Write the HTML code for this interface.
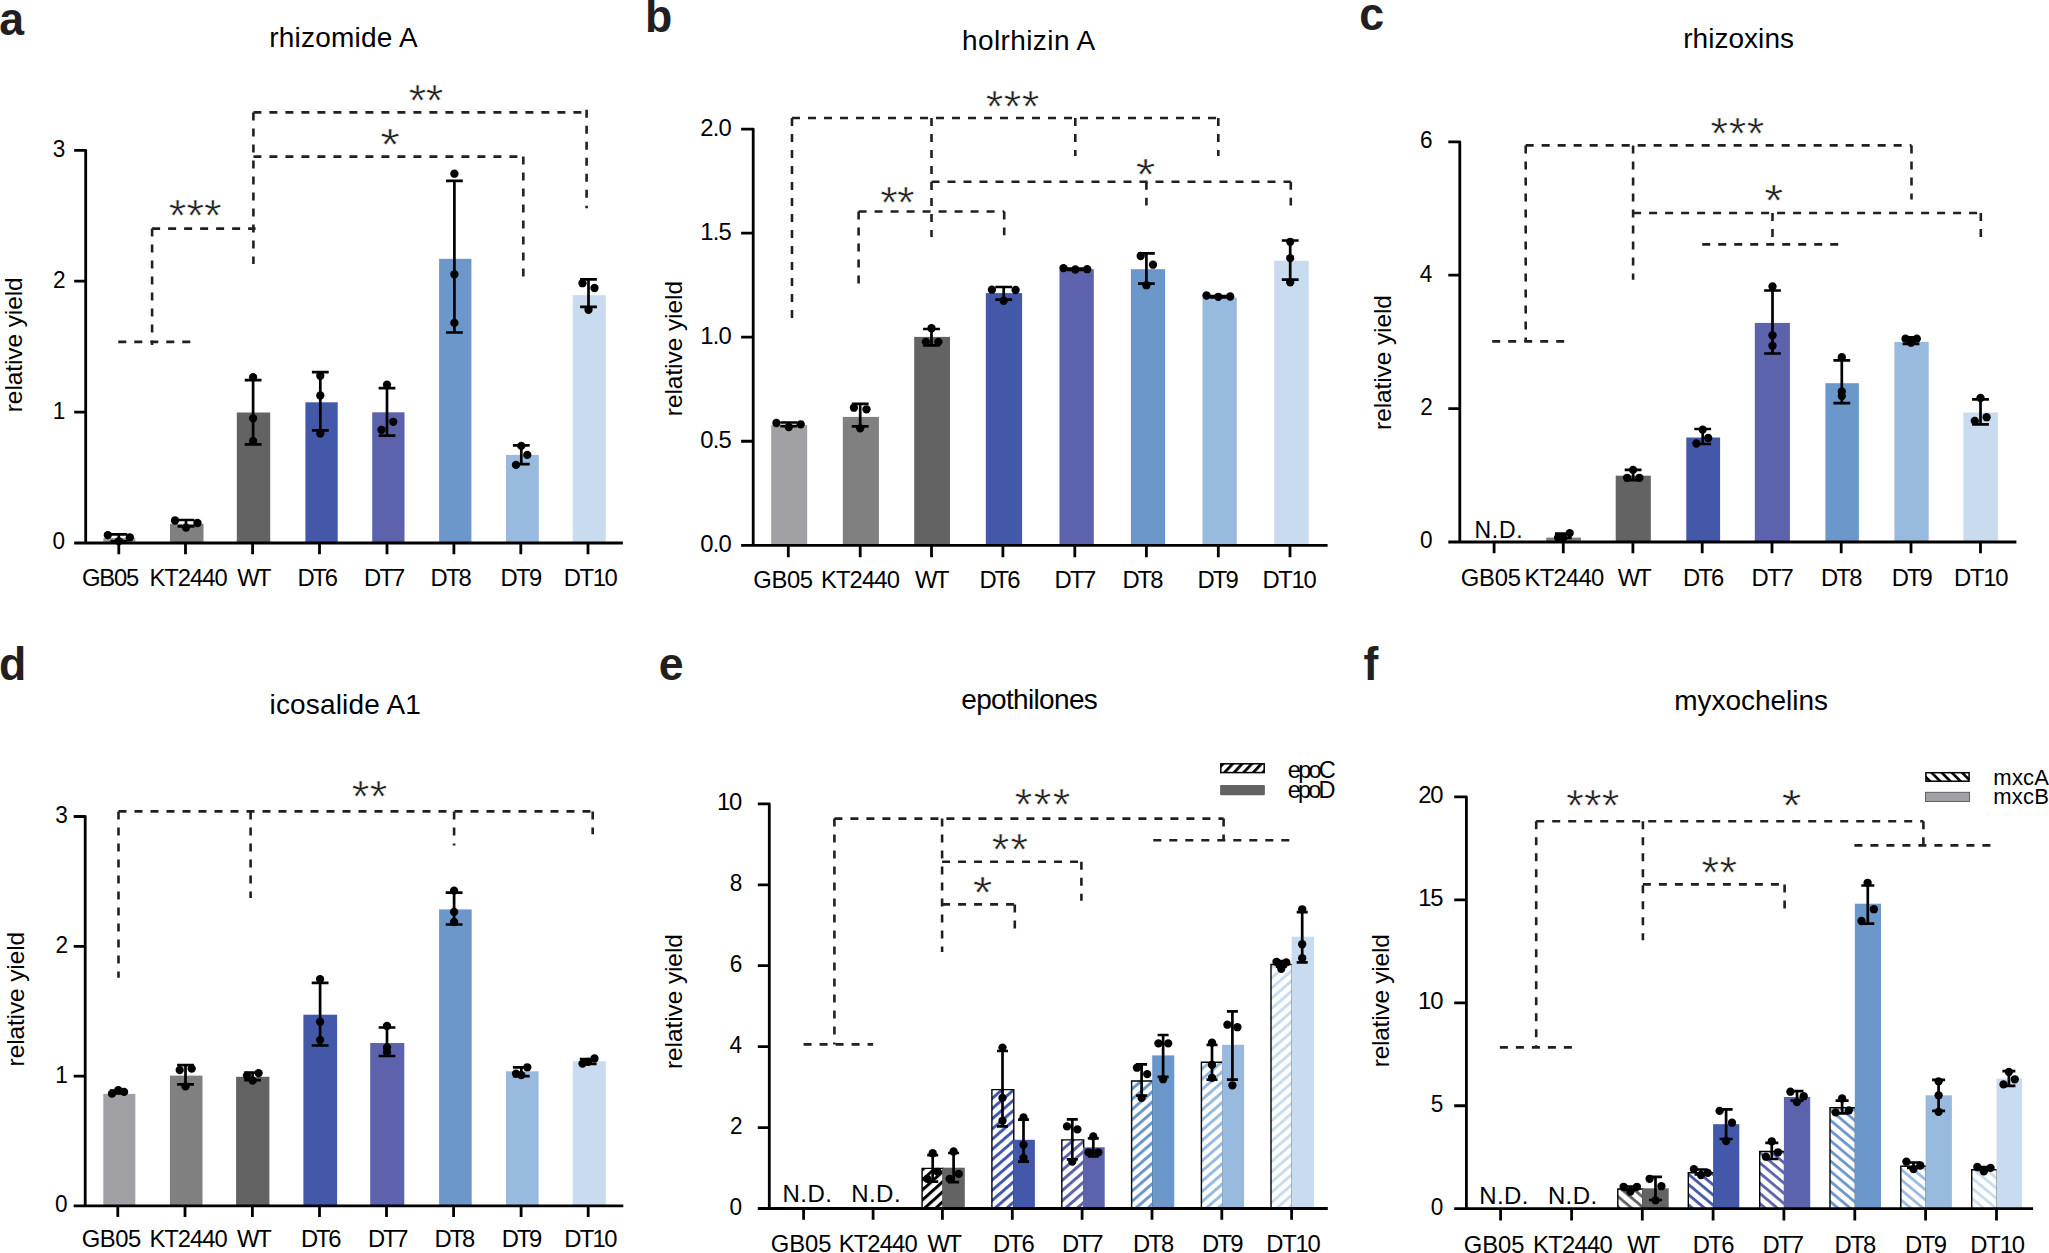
<!DOCTYPE html>
<html><head><meta charset="utf-8"><title>figure</title>
<style>
html,body{margin:0;padding:0;background:#fff}
svg{display:block}
text{font-family:"Liberation Sans",Arial,Helvetica,sans-serif;white-space:pre}

.st{stroke:#fff;stroke-width:0.5px}
</style></head><body>
<svg width="2049" height="1253" viewBox="0 0 2049 1253">
<rect width="2049" height="1253" fill="#fff"/>
<defs>
<pattern id="e0" width="20" height="7.5" patternUnits="userSpaceOnUse" patternTransform="rotate(-42)"><rect width="20" height="3.0" fill="#000"/></pattern>
<pattern id="e1" width="20" height="7.7" patternUnits="userSpaceOnUse" patternTransform="rotate(-41)"><rect width="20" height="3.0" fill="#4358a8"/></pattern>
<pattern id="e2" width="20" height="7.7" patternUnits="userSpaceOnUse" patternTransform="rotate(-41)"><rect width="20" height="3.0" fill="#5c62ab"/></pattern>
<pattern id="e3" width="20" height="7.7" patternUnits="userSpaceOnUse" patternTransform="rotate(-41)"><rect width="20" height="3.0" fill="#6b97cb"/></pattern>
<pattern id="e4" width="20" height="7.7" patternUnits="userSpaceOnUse" patternTransform="rotate(-41)"><rect width="20" height="3.0" fill="#98badf"/></pattern>
<pattern id="e5" width="20" height="7.7" patternUnits="userSpaceOnUse" patternTransform="rotate(-41)"><rect width="20" height="3.0" fill="#c9dbef"/></pattern>
<pattern id="f0" width="20" height="7.8" patternUnits="userSpaceOnUse" patternTransform="rotate(40)"><rect width="20" height="2.8" fill="#636363"/></pattern>
<pattern id="f1" width="20" height="7.8" patternUnits="userSpaceOnUse" patternTransform="rotate(40)"><rect width="20" height="2.8" fill="#4358a8"/></pattern>
<pattern id="f2" width="20" height="7.8" patternUnits="userSpaceOnUse" patternTransform="rotate(40)"><rect width="20" height="2.8" fill="#5c62ab"/></pattern>
<pattern id="f3" width="20" height="7.8" patternUnits="userSpaceOnUse" patternTransform="rotate(40)"><rect width="20" height="2.8" fill="#6b97cb"/></pattern>
<pattern id="f4" width="20" height="7.8" patternUnits="userSpaceOnUse" patternTransform="rotate(40)"><rect width="20" height="2.8" fill="#98badf"/></pattern>
<pattern id="f5" width="20" height="7.8" patternUnits="userSpaceOnUse" patternTransform="rotate(40)"><rect width="20" height="2.8" fill="#c9dbef"/></pattern>
<pattern id="le" x="2" width="20" height="7" patternUnits="userSpaceOnUse" patternTransform="rotate(-47)"><rect width="20" height="2.8" fill="#000"/></pattern>
<pattern id="lf" width="20" height="7.2" patternUnits="userSpaceOnUse" patternTransform="rotate(45)"><rect width="20" height="2.6" fill="#000"/></pattern>
</defs>
<rect x="103.30" y="538.00" width="32.00" height="5.00" fill="#a1a0a4"/>
<rect x="170.00" y="523.80" width="33.50" height="19.20" fill="#808080"/>
<rect x="236.80" y="412.50" width="33.40" height="130.50" fill="#636363"/>
<rect x="305.40" y="402.30" width="32.30" height="140.70" fill="#4358a8"/>
<rect x="372.20" y="412.30" width="32.30" height="130.70" fill="#5c62ab"/>
<rect x="439.10" y="258.80" width="32.30" height="284.20" fill="#6b97cb"/>
<rect x="506.00" y="454.90" width="32.80" height="88.10" fill="#98badf"/>
<rect x="572.70" y="295.20" width="33.10" height="247.80" fill="#c9dbef"/>
<path d="M118.80 534.30V541.00M110.40 534.30H127.20M110.40 541.00H127.20" stroke="#000" stroke-width="2.7" fill="none"/>
<path d="M186.00 520.00V526.30M177.60 520.00H194.40M177.60 526.30H194.40" stroke="#000" stroke-width="2.7" fill="none"/>
<path d="M253.10 380.20V444.40M244.70 380.20H261.50M244.70 444.40H261.50" stroke="#000" stroke-width="2.7" fill="none"/>
<path d="M320.30 372.20V430.30M311.90 372.20H328.70M311.90 430.30H328.70" stroke="#000" stroke-width="2.7" fill="none"/>
<path d="M387.00 388.20V435.60M378.60 388.20H395.40M378.60 435.60H395.40" stroke="#000" stroke-width="2.7" fill="none"/>
<path d="M454.40 180.90V332.50M446.00 180.90H462.80M446.00 332.50H462.80" stroke="#000" stroke-width="2.7" fill="none"/>
<path d="M521.30 445.40V464.20M512.90 445.40H529.70M512.90 464.20H529.70" stroke="#000" stroke-width="2.7" fill="none"/>
<path d="M588.50 279.30V306.90M580.10 279.30H596.90M580.10 306.90H596.90" stroke="#000" stroke-width="2.7" fill="none"/>
<circle cx="107.80" cy="535.10" r="4.15"/>
<circle cx="129.80" cy="537.30" r="4.15"/>
<circle cx="118.80" cy="541.10" r="4.15"/>
<circle cx="175.00" cy="520.50" r="4.15"/>
<circle cx="197.50" cy="523.00" r="4.15"/>
<circle cx="186.00" cy="527.60" r="4.15"/>
<circle cx="253.10" cy="377.20" r="4.15"/>
<circle cx="253.10" cy="418.30" r="4.15"/>
<circle cx="253.10" cy="440.90" r="4.15"/>
<circle cx="320.30" cy="375.70" r="4.15"/>
<circle cx="320.30" cy="395.50" r="4.15"/>
<circle cx="320.30" cy="433.60" r="4.15"/>
<circle cx="387.00" cy="384.70" r="4.15"/>
<circle cx="393.20" cy="421.80" r="4.15"/>
<circle cx="381.50" cy="429.80" r="4.15"/>
<circle cx="454.40" cy="173.70" r="4.15"/>
<circle cx="454.40" cy="274.30" r="4.15"/>
<circle cx="454.40" cy="322.90" r="4.15"/>
<circle cx="521.30" cy="445.90" r="4.15"/>
<circle cx="527.30" cy="454.90" r="4.15"/>
<circle cx="516.00" cy="464.90" r="4.15"/>
<circle cx="582.50" cy="283.20" r="4.15"/>
<circle cx="594.50" cy="288.00" r="4.15"/>
<circle cx="588.50" cy="309.80" r="4.15"/>
<path d="M74.20 150.30H85.70V543.00M74.20 281.20H85.70M74.20 412.10H85.70M74.20 543.00H622.80M118.80 543.00V554.20M185.50 543.00V554.20M252.60 543.00V554.20M319.50 543.00V554.20M387.00 543.00V554.20M453.90 543.00V554.20M520.80 543.00V554.20M588.00 543.00V554.20" stroke="#000" stroke-width="2.8" fill="none" stroke-linejoin="round"/>
<text x="52.66" y="156.70" font-size="23.8" fill="#000" textLength="12.58" lengthAdjust="spacingAndGlyphs">3</text>
<text x="52.88" y="287.60" font-size="23.8" fill="#000" textLength="12.58" lengthAdjust="spacingAndGlyphs">2</text>
<text x="52.77" y="418.50" font-size="23.8" fill="#000" textLength="12.58" lengthAdjust="spacingAndGlyphs">1</text>
<text x="52.54" y="549.40" font-size="23.8" fill="#000" textLength="12.58" lengthAdjust="spacingAndGlyphs">0</text>
<text x="82.11" y="585.70" font-size="23.8" fill="#000" textLength="57.09" lengthAdjust="spacing">GB05</text>
<text x="149.40" y="585.70" font-size="23.8" fill="#000" textLength="78.30" lengthAdjust="spacing">KT2440</text>
<text x="237.18" y="585.70" font-size="23.8" fill="#000" textLength="34.49" lengthAdjust="spacing">WT</text>
<text x="297.60" y="585.70" font-size="23.8" fill="#000" textLength="40.44" lengthAdjust="spacing">DT6</text>
<text x="364.10" y="585.70" font-size="23.8" fill="#000" textLength="41.18" lengthAdjust="spacing">DT7</text>
<text x="430.60" y="585.70" font-size="23.8" fill="#000" textLength="41.24" lengthAdjust="spacing">DT8</text>
<text x="500.60" y="585.70" font-size="23.8" fill="#000" textLength="41.56" lengthAdjust="spacing">DT9</text>
<text x="563.80" y="585.70" font-size="23.8" fill="#000" textLength="54.05" lengthAdjust="spacing">DT10</text>
<path d="M152.10 228.60L152.10 345.00" stroke="#231f20" stroke-width="2.6" fill="none" stroke-dasharray="8 8"/>
<path d="M152.10 228.60L255.60 228.60" stroke="#231f20" stroke-width="2.6" fill="none" stroke-dasharray="8 8"/>
<path d="M118.30 341.90L191.00 341.90" stroke="#231f20" stroke-width="2.6" fill="none" stroke-dasharray="8 8"/>
<path d="M253.40 112.40L253.40 264.00" stroke="#231f20" stroke-width="2.6" fill="none" stroke-dasharray="8 8"/>
<path d="M253.40 112.40L586.60 112.40" stroke="#231f20" stroke-width="2.6" fill="none" stroke-dasharray="8 8"/>
<path d="M586.60 109.80L586.60 208.30" stroke="#231f20" stroke-width="2.6" fill="none" stroke-dasharray="8 8"/>
<path d="M253.40 156.60L523.30 156.60" stroke="#231f20" stroke-width="2.6" fill="none" stroke-dasharray="8 8"/>
<path d="M523.30 156.60L523.30 277.40" stroke="#231f20" stroke-width="2.6" fill="none" stroke-dasharray="8 8"/>
<text x="168.82" y="230.64" font-size="45" fill="#231f20" textLength="52.63" lengthAdjust="spacing" class="st">***</text>
<text x="408.82" y="115.84" font-size="45" fill="#231f20" textLength="34.47" lengthAdjust="spacing" class="st">**</text>
<text x="380.35" y="159.64" font-size="45" fill="#231f20" textLength="19.57" lengthAdjust="spacingAndGlyphs" class="st">*</text>
<text x="-0.74" y="35.00" font-size="46" font-weight="700" fill="#231f20" textLength="24.82" lengthAdjust="spacingAndGlyphs">a</text>
<text x="269.18" y="46.80" font-size="28" fill="#000" textLength="148.42" lengthAdjust="spacing">rhizomide A</text>
<text transform="translate(21.70,412.19) rotate(-90)" font-size="24.5" fill="#000" textLength="134.87" lengthAdjust="spacing">relative yield</text>
<rect x="771.20" y="425.10" width="36.00" height="120.20" fill="#a1a0a4"/>
<rect x="842.80" y="416.90" width="36.10" height="128.40" fill="#808080"/>
<rect x="914.20" y="336.90" width="35.80" height="208.40" fill="#636363"/>
<rect x="985.80" y="293.10" width="36.30" height="252.20" fill="#4358a8"/>
<rect x="1059.50" y="269.20" width="34.30" height="276.10" fill="#5c62ab"/>
<rect x="1130.90" y="269.20" width="34.20" height="276.10" fill="#6b97cb"/>
<rect x="1202.50" y="297.60" width="34.30" height="247.70" fill="#98badf"/>
<rect x="1274.20" y="260.70" width="34.50" height="284.60" fill="#c9dbef"/>
<path d="M788.80 422.50V426.20M780.40 422.50H797.20M780.40 426.20H797.20" stroke="#000" stroke-width="2.7" fill="none"/>
<path d="M860.20 403.80V426.40M851.80 403.80H868.60M851.80 426.40H868.60" stroke="#000" stroke-width="2.7" fill="none"/>
<path d="M931.50 329.00V345.30M923.10 329.00H939.90M923.10 345.30H939.90" stroke="#000" stroke-width="2.7" fill="none"/>
<path d="M1003.70 287.00V299.70M995.30 287.00H1012.10M995.30 299.70H1012.10" stroke="#000" stroke-width="2.7" fill="none"/>
<path d="M1075.30 268.50V270.00M1066.90 268.50H1083.70M1066.90 270.00H1083.70" stroke="#000" stroke-width="2.7" fill="none"/>
<path d="M1146.40 253.40V283.60M1138.00 253.40H1154.80M1138.00 283.60H1154.80" stroke="#000" stroke-width="2.7" fill="none"/>
<path d="M1218.30 296.00V297.50M1209.90 296.00H1226.70M1209.90 297.50H1226.70" stroke="#000" stroke-width="2.7" fill="none"/>
<path d="M1290.20 240.50V279.70M1281.80 240.50H1298.60M1281.80 279.70H1298.60" stroke="#000" stroke-width="2.7" fill="none"/>
<circle cx="776.40" cy="423.00" r="4.15"/>
<circle cx="800.70" cy="424.30" r="4.15"/>
<circle cx="788.80" cy="427.00" r="4.15"/>
<circle cx="853.90" cy="407.70" r="4.15"/>
<circle cx="866.50" cy="409.30" r="4.15"/>
<circle cx="860.20" cy="428.30" r="4.15"/>
<circle cx="931.50" cy="328.20" r="4.15"/>
<circle cx="925.80" cy="341.90" r="4.15"/>
<circle cx="938.40" cy="341.90" r="4.15"/>
<circle cx="991.90" cy="289.70" r="4.15"/>
<circle cx="1015.60" cy="290.00" r="4.15"/>
<circle cx="1003.70" cy="300.80" r="4.15"/>
<circle cx="1063.50" cy="268.10" r="4.15"/>
<circle cx="1075.30" cy="269.50" r="4.15"/>
<circle cx="1087.20" cy="269.20" r="4.15"/>
<circle cx="1140.70" cy="256.00" r="4.15"/>
<circle cx="1153.00" cy="264.70" r="4.15"/>
<circle cx="1146.40" cy="285.20" r="4.15"/>
<circle cx="1206.50" cy="295.50" r="4.15"/>
<circle cx="1218.30" cy="296.80" r="4.15"/>
<circle cx="1230.20" cy="296.50" r="4.15"/>
<circle cx="1290.20" cy="241.80" r="4.15"/>
<circle cx="1290.20" cy="258.10" r="4.15"/>
<circle cx="1290.20" cy="282.30" r="4.15"/>
<path d="M741.10 129.10H753.20V545.30M741.10 233.15H753.20M741.10 337.20H753.20M741.10 441.25H753.20M741.10 545.30H1327.60M788.30 545.30V557.30M860.20 545.30V557.30M931.50 545.30V557.30M1002.90 545.30V557.30M1074.80 545.30V557.30M1146.40 545.30V557.30M1218.30 545.30V557.30M1290.00 545.30V557.30" stroke="#000" stroke-width="2.8" fill="none" stroke-linejoin="round"/>
<text x="700.20" y="135.50" font-size="23.8" fill="#000" textLength="31.53" lengthAdjust="spacing">2.0</text>
<text x="700.29" y="239.55" font-size="23.8" fill="#000" textLength="31.57" lengthAdjust="spacing">1.5</text>
<text x="700.17" y="343.60" font-size="23.8" fill="#000" textLength="31.56" lengthAdjust="spacing">1.0</text>
<text x="700.33" y="447.65" font-size="23.8" fill="#000" textLength="31.53" lengthAdjust="spacing">0.5</text>
<text x="700.22" y="551.70" font-size="23.8" fill="#000" textLength="31.52" lengthAdjust="spacing">0.0</text>
<text x="753.21" y="588.40" font-size="23.8" fill="#000" textLength="59.89" lengthAdjust="spacing">GB05</text>
<text x="821.00" y="588.40" font-size="23.8" fill="#000" textLength="78.90" lengthAdjust="spacing">KT2440</text>
<text x="914.98" y="588.40" font-size="23.8" fill="#000" textLength="34.49" lengthAdjust="spacing">WT</text>
<text x="979.40" y="588.40" font-size="23.8" fill="#000" textLength="41.04" lengthAdjust="spacing">DT6</text>
<text x="1054.50" y="588.40" font-size="23.8" fill="#000" textLength="41.78" lengthAdjust="spacing">DT7</text>
<text x="1122.40" y="588.40" font-size="23.8" fill="#000" textLength="41.04" lengthAdjust="spacing">DT8</text>
<text x="1197.50" y="588.40" font-size="23.8" fill="#000" textLength="41.16" lengthAdjust="spacing">DT9</text>
<text x="1262.50" y="588.40" font-size="23.8" fill="#000" textLength="54.15" lengthAdjust="spacing">DT10</text>
<path d="M792.00 118.00L792.00 318.70" stroke="#231f20" stroke-width="2.6" fill="none" stroke-dasharray="8 8"/>
<path d="M792.00 118.00L1218.30 118.00" stroke="#231f20" stroke-width="2.6" fill="none" stroke-dasharray="8 8"/>
<path d="M1218.30 118.00L1218.30 156.00" stroke="#231f20" stroke-width="2.6" fill="none" stroke-dasharray="8 8"/>
<path d="M931.50 118.00L931.50 237.00" stroke="#231f20" stroke-width="2.6" fill="none" stroke-dasharray="8 8"/>
<path d="M1075.30 118.00L1075.30 156.00" stroke="#231f20" stroke-width="2.6" fill="none" stroke-dasharray="8 8"/>
<path d="M931.50 181.70L1290.80 181.70" stroke="#231f20" stroke-width="2.6" fill="none" stroke-dasharray="8 8"/>
<path d="M1290.80 181.70L1290.80 205.40" stroke="#231f20" stroke-width="2.6" fill="none" stroke-dasharray="8 8"/>
<path d="M1146.40 181.70L1146.40 205.40" stroke="#231f20" stroke-width="2.6" fill="none" stroke-dasharray="8 8"/>
<path d="M858.60 211.50L858.60 283.90" stroke="#231f20" stroke-width="2.6" fill="none" stroke-dasharray="8 8"/>
<path d="M858.60 211.50L1004.20 211.50" stroke="#231f20" stroke-width="2.6" fill="none" stroke-dasharray="8 8"/>
<path d="M1004.20 211.50L1004.20 235.20" stroke="#231f20" stroke-width="2.6" fill="none" stroke-dasharray="8 8"/>
<text x="985.83" y="122.14" font-size="45" fill="#231f20" textLength="53.53" lengthAdjust="spacing" class="st">***</text>
<text x="880.23" y="217.94" font-size="45" fill="#231f20" textLength="34.37" lengthAdjust="spacing" class="st">**</text>
<text x="1135.85" y="189.74" font-size="45" fill="#231f20" textLength="19.57" lengthAdjust="spacingAndGlyphs" class="st">*</text>
<text x="645.00" y="32.10" font-size="46" font-weight="700" fill="#231f20" textLength="27.26" lengthAdjust="spacingAndGlyphs">b</text>
<text x="961.94" y="50.00" font-size="28" fill="#000" textLength="133.27" lengthAdjust="spacing">holrhizin A</text>
<text transform="translate(681.80,416.19) rotate(-90)" font-size="24.5" fill="#000" textLength="135.27" lengthAdjust="spacing">relative yield</text>
<rect x="1546.20" y="537.60" width="34.80" height="4.40" fill="#808080"/>
<rect x="1615.70" y="475.70" width="35.10" height="66.30" fill="#636363"/>
<rect x="1686.30" y="437.50" width="33.80" height="104.50" fill="#4358a8"/>
<rect x="1754.80" y="322.90" width="35.10" height="219.10" fill="#5c62ab"/>
<rect x="1825.40" y="383.20" width="33.50" height="158.80" fill="#6b97cb"/>
<rect x="1894.40" y="341.90" width="34.30" height="200.10" fill="#98badf"/>
<rect x="1963.40" y="412.50" width="34.50" height="129.50" fill="#c9dbef"/>
<path d="M1563.30 533.60V538.00M1554.90 533.60H1571.70M1554.90 538.00H1571.70" stroke="#000" stroke-width="2.7" fill="none"/>
<path d="M1633.10 469.90V480.20M1624.70 469.90H1641.50M1624.70 480.20H1641.50" stroke="#000" stroke-width="2.7" fill="none"/>
<path d="M1702.70 429.00V444.00M1694.30 429.00H1711.10M1694.30 444.00H1711.10" stroke="#000" stroke-width="2.7" fill="none"/>
<path d="M1772.50 290.50V353.50M1764.10 290.50H1780.90M1764.10 353.50H1780.90" stroke="#000" stroke-width="2.7" fill="none"/>
<path d="M1841.80 360.30V403.20M1833.40 360.30H1850.20M1833.40 403.20H1850.20" stroke="#000" stroke-width="2.7" fill="none"/>
<path d="M1911.00 337.40V344.00M1902.60 337.40H1919.40M1902.60 344.00H1919.40" stroke="#000" stroke-width="2.7" fill="none"/>
<path d="M1980.50 399.30V424.30M1972.10 399.30H1988.90M1972.10 424.30H1988.90" stroke="#000" stroke-width="2.7" fill="none"/>
<circle cx="1558.10" cy="537.60" r="4.15"/>
<circle cx="1563.30" cy="538.00" r="4.15"/>
<circle cx="1569.70" cy="533.10" r="4.15"/>
<circle cx="1633.10" cy="469.90" r="4.15"/>
<circle cx="1627.10" cy="477.80" r="4.15"/>
<circle cx="1639.40" cy="477.80" r="4.15"/>
<circle cx="1702.70" cy="429.60" r="4.15"/>
<circle cx="1708.20" cy="438.00" r="4.15"/>
<circle cx="1696.40" cy="443.50" r="4.15"/>
<circle cx="1772.50" cy="286.50" r="4.15"/>
<circle cx="1772.50" cy="335.30" r="4.15"/>
<circle cx="1772.50" cy="345.80" r="4.15"/>
<circle cx="1841.80" cy="357.20" r="4.15"/>
<circle cx="1841.80" cy="391.40" r="4.15"/>
<circle cx="1841.80" cy="396.10" r="4.15"/>
<circle cx="1905.50" cy="338.70" r="4.15"/>
<circle cx="1916.80" cy="338.70" r="4.15"/>
<circle cx="1911.00" cy="342.70" r="4.15"/>
<circle cx="1980.50" cy="398.00" r="4.15"/>
<circle cx="1986.60" cy="417.20" r="4.15"/>
<circle cx="1974.80" cy="420.90" r="4.15"/>
<path d="M1448.30 141.80H1459.80V542.00M1448.30 275.20H1459.80M1448.30 408.60H1459.80M1448.30 542.00H2016.40M1494.10 542.00V553.20M1563.30 542.00V553.20M1632.90 542.00V553.20M1702.20 542.00V553.20M1772.00 542.00V553.20M1841.20 542.00V553.20M1911.00 542.00V553.20M1980.50 542.00V553.20" stroke="#000" stroke-width="2.8" fill="none" stroke-linejoin="round"/>
<text x="1420.06" y="148.20" font-size="23.8" fill="#000" textLength="12.58" lengthAdjust="spacingAndGlyphs">6</text>
<text x="1419.83" y="281.60" font-size="23.8" fill="#000" textLength="12.58" lengthAdjust="spacingAndGlyphs">4</text>
<text x="1420.28" y="415.00" font-size="23.8" fill="#000" textLength="12.58" lengthAdjust="spacingAndGlyphs">2</text>
<text x="1419.94" y="548.40" font-size="23.8" fill="#000" textLength="12.58" lengthAdjust="spacingAndGlyphs">0</text>
<text x="1460.71" y="585.60" font-size="23.8" fill="#000" textLength="60.19" lengthAdjust="spacing">GB05</text>
<text x="1524.60" y="585.60" font-size="23.8" fill="#000" textLength="79.70" lengthAdjust="spacing">KT2440</text>
<text x="1617.78" y="585.60" font-size="23.8" fill="#000" textLength="33.99" lengthAdjust="spacing">WT</text>
<text x="1683.10" y="585.60" font-size="23.8" fill="#000" textLength="41.04" lengthAdjust="spacing">DT6</text>
<text x="1751.60" y="585.60" font-size="23.8" fill="#000" textLength="42.08" lengthAdjust="spacing">DT7</text>
<text x="1820.90" y="585.60" font-size="23.8" fill="#000" textLength="41.54" lengthAdjust="spacing">DT8</text>
<text x="1891.70" y="585.60" font-size="23.8" fill="#000" textLength="41.16" lengthAdjust="spacing">DT9</text>
<text x="1953.90" y="585.60" font-size="23.8" fill="#000" textLength="54.65" lengthAdjust="spacing">DT10</text>
<path d="M1525.70 145.40L1525.70 341.40" stroke="#231f20" stroke-width="2.6" fill="none" stroke-dasharray="8 8"/>
<path d="M1525.70 145.40L1911.50 145.40" stroke="#231f20" stroke-width="2.6" fill="none" stroke-dasharray="8 8"/>
<path d="M1911.50 145.40L1911.50 199.60" stroke="#231f20" stroke-width="2.6" fill="none" stroke-dasharray="8 8"/>
<path d="M1633.10 145.40L1633.10 279.70" stroke="#231f20" stroke-width="2.6" fill="none" stroke-dasharray="8 8"/>
<path d="M1492.20 341.40L1564.40 341.40" stroke="#231f20" stroke-width="2.6" fill="none" stroke-dasharray="8 8"/>
<path d="M1633.10 213.00L1980.80 213.00" stroke="#231f20" stroke-width="2.6" fill="none" stroke-dasharray="8 8"/>
<path d="M1980.80 213.00L1980.80 237.00" stroke="#231f20" stroke-width="2.6" fill="none" stroke-dasharray="8 8"/>
<path d="M1772.50 213.00L1772.50 244.40" stroke="#231f20" stroke-width="2.6" fill="none" stroke-dasharray="8 8"/>
<path d="M1702.20 244.40L1839.10 244.40" stroke="#231f20" stroke-width="2.6" fill="none" stroke-dasharray="8 8"/>
<text x="1710.62" y="148.94" font-size="45" fill="#231f20" textLength="53.53" lengthAdjust="spacing" class="st">***</text>
<text x="1764.27" y="216.14" font-size="45" fill="#231f20" textLength="19.02" lengthAdjust="spacingAndGlyphs" class="st">*</text>
<text x="1359.32" y="29.80" font-size="46" font-weight="700" fill="#231f20" textLength="24.82" lengthAdjust="spacingAndGlyphs">c</text>
<text x="1683.18" y="47.70" font-size="28" fill="#000" textLength="110.83" lengthAdjust="spacing">rhizoxins</text>
<text transform="translate(1391.40,429.89) rotate(-90)" font-size="24.5" fill="#000" textLength="134.87" lengthAdjust="spacing">relative yield</text>
<rect x="103.30" y="1093.90" width="32.00" height="112.00" fill="#a1a0a4"/>
<rect x="169.90" y="1075.60" width="32.60" height="130.30" fill="#808080"/>
<rect x="236.10" y="1076.80" width="33.30" height="129.10" fill="#636363"/>
<rect x="303.40" y="1014.70" width="33.70" height="191.20" fill="#4358a8"/>
<rect x="370.20" y="1043.00" width="34.10" height="162.90" fill="#5c62ab"/>
<rect x="439.10" y="909.40" width="32.60" height="296.50" fill="#6b97cb"/>
<rect x="506.00" y="1071.30" width="32.60" height="134.60" fill="#98badf"/>
<rect x="572.70" y="1061.30" width="33.10" height="144.60" fill="#c9dbef"/>
<path d="M118.30 1090.50V1093.50M109.90 1090.50H126.70M109.90 1093.50H126.70" stroke="#000" stroke-width="2.7" fill="none"/>
<path d="M185.50 1065.10V1084.40M177.10 1065.10H193.90M177.10 1084.40H193.90" stroke="#000" stroke-width="2.7" fill="none"/>
<path d="M252.60 1072.60V1080.10M244.20 1072.60H261.00M244.20 1080.10H261.00" stroke="#000" stroke-width="2.7" fill="none"/>
<path d="M320.10 982.90V1045.50M311.70 982.90H328.50M311.70 1045.50H328.50" stroke="#000" stroke-width="2.7" fill="none"/>
<path d="M387.00 1027.50V1056.00M378.60 1027.50H395.40M378.60 1056.00H395.40" stroke="#000" stroke-width="2.7" fill="none"/>
<path d="M454.10 892.60V924.50M445.70 892.60H462.50M445.70 924.50H462.50" stroke="#000" stroke-width="2.7" fill="none"/>
<path d="M521.30 1067.30V1076.10M512.90 1067.30H529.70M512.90 1076.10H529.70" stroke="#000" stroke-width="2.7" fill="none"/>
<path d="M588.20 1059.00V1064.00M579.80 1059.00H596.60M579.80 1064.00H596.60" stroke="#000" stroke-width="2.7" fill="none"/>
<circle cx="112.00" cy="1093.60" r="4.15"/>
<circle cx="118.30" cy="1090.10" r="4.15"/>
<circle cx="124.10" cy="1091.90" r="4.15"/>
<circle cx="179.70" cy="1070.10" r="4.15"/>
<circle cx="191.70" cy="1068.60" r="4.15"/>
<circle cx="185.50" cy="1086.40" r="4.15"/>
<circle cx="246.90" cy="1075.60" r="4.15"/>
<circle cx="258.60" cy="1073.10" r="4.15"/>
<circle cx="252.60" cy="1080.60" r="4.15"/>
<circle cx="320.10" cy="979.10" r="4.15"/>
<circle cx="320.10" cy="1021.70" r="4.15"/>
<circle cx="320.10" cy="1040.00" r="4.15"/>
<circle cx="387.00" cy="1026.00" r="4.15"/>
<circle cx="387.00" cy="1047.50" r="4.15"/>
<circle cx="387.00" cy="1052.30" r="4.15"/>
<circle cx="454.10" cy="890.60" r="4.15"/>
<circle cx="454.10" cy="911.90" r="4.15"/>
<circle cx="454.10" cy="922.00" r="4.15"/>
<circle cx="527.30" cy="1067.30" r="4.15"/>
<circle cx="516.00" cy="1073.60" r="4.15"/>
<circle cx="521.30" cy="1075.10" r="4.15"/>
<circle cx="582.50" cy="1063.60" r="4.15"/>
<circle cx="588.20" cy="1061.80" r="4.15"/>
<circle cx="594.50" cy="1058.50" r="4.15"/>
<path d="M73.70 816.50H85.20V1205.90M73.70 946.30H85.20M73.70 1076.10H85.20M73.70 1205.90H623.30M117.80 1205.90V1217.10M185.00 1205.90V1217.10M252.40 1205.90V1217.10M319.50 1205.90V1217.10M386.50 1205.90V1217.10M453.60 1205.90V1217.10M521.10 1205.90V1217.10M588.20 1205.90V1217.10" stroke="#000" stroke-width="2.8" fill="none" stroke-linejoin="round"/>
<text x="55.16" y="822.90" font-size="23.8" fill="#000" textLength="12.58" lengthAdjust="spacingAndGlyphs">3</text>
<text x="55.38" y="952.70" font-size="23.8" fill="#000" textLength="12.58" lengthAdjust="spacingAndGlyphs">2</text>
<text x="55.27" y="1082.50" font-size="23.8" fill="#000" textLength="12.58" lengthAdjust="spacingAndGlyphs">1</text>
<text x="55.04" y="1212.30" font-size="23.8" fill="#000" textLength="12.58" lengthAdjust="spacingAndGlyphs">0</text>
<text x="81.71" y="1247.20" font-size="23.8" fill="#000" textLength="59.49" lengthAdjust="spacing">GB05</text>
<text x="149.40" y="1247.20" font-size="23.8" fill="#000" textLength="78.30" lengthAdjust="spacing">KT2440</text>
<text x="236.88" y="1247.20" font-size="23.8" fill="#000" textLength="34.99" lengthAdjust="spacing">WT</text>
<text x="301.10" y="1247.20" font-size="23.8" fill="#000" textLength="40.44" lengthAdjust="spacing">DT6</text>
<text x="368.10" y="1247.20" font-size="23.8" fill="#000" textLength="40.48" lengthAdjust="spacing">DT7</text>
<text x="434.60" y="1247.20" font-size="23.8" fill="#000" textLength="40.74" lengthAdjust="spacing">DT8</text>
<text x="501.70" y="1247.20" font-size="23.8" fill="#000" textLength="40.66" lengthAdjust="spacing">DT9</text>
<text x="564.20" y="1247.20" font-size="23.8" fill="#000" textLength="53.25" lengthAdjust="spacing">DT10</text>
<path d="M118.50 811.40L118.50 977.80" stroke="#231f20" stroke-width="2.6" fill="none" stroke-dasharray="8 8"/>
<path d="M118.50 811.40L592.70 811.40" stroke="#231f20" stroke-width="2.6" fill="none" stroke-dasharray="8 8"/>
<path d="M592.70 811.40L592.70 834.20" stroke="#231f20" stroke-width="2.6" fill="none" stroke-dasharray="8 8"/>
<path d="M250.60 811.40L250.60 898.00" stroke="#231f20" stroke-width="2.6" fill="none" stroke-dasharray="8 8"/>
<path d="M454.10 811.40L454.10 845.50" stroke="#231f20" stroke-width="2.6" fill="none" stroke-dasharray="8 8"/>
<text x="351.82" y="812.04" font-size="45" fill="#231f20" textLength="35.37" lengthAdjust="spacing" class="st">**</text>
<text x="-1.08" y="679.60" font-size="46" font-weight="700" fill="#231f20" textLength="27.26" lengthAdjust="spacingAndGlyphs">d</text>
<text x="269.48" y="713.80" font-size="28" fill="#000" textLength="151.34" lengthAdjust="spacing">icosalide A1</text>
<text transform="translate(24.10,1066.39) rotate(-90)" font-size="24.5" fill="#000" textLength="134.47" lengthAdjust="spacing">relative yield</text>
<text x="1474.56" y="537.60" font-size="23" fill="#000" textLength="48.03" lengthAdjust="spacing">N.D.</text>
<rect x="922.10" y="1168.40" width="20.40" height="40.10" fill="#fff"/>
<rect x="922.10" y="1168.40" width="20.40" height="40.10" fill="url(#e0)"/>
<path d="M922.10 1208.50V1168.40H943.20V1208.50" fill="none" stroke="#000" stroke-width="1.4"/>
<rect x="942.50" y="1167.70" width="22.30" height="40.80" fill="#636363"/>
<rect x="991.90" y="1089.60" width="21.20" height="118.90" fill="#fff"/>
<rect x="991.90" y="1089.60" width="21.20" height="118.90" fill="url(#e1)"/>
<path d="M991.90 1208.50V1089.60H1013.80V1208.50" fill="none" stroke="#000" stroke-width="1.4"/>
<rect x="1013.10" y="1139.80" width="21.80" height="68.70" fill="#4358a8"/>
<rect x="1061.80" y="1139.90" width="21.20" height="68.60" fill="#fff"/>
<rect x="1061.80" y="1139.90" width="21.20" height="68.60" fill="url(#e2)"/>
<path d="M1061.80 1208.50V1139.90H1083.70V1208.50" fill="none" stroke="#000" stroke-width="1.4"/>
<rect x="1083.00" y="1147.30" width="21.70" height="61.20" fill="#5c62ab"/>
<rect x="1131.60" y="1081.00" width="20.60" height="127.50" fill="#fff"/>
<rect x="1131.60" y="1081.00" width="20.60" height="127.50" fill="url(#e3)"/>
<path d="M1131.60 1208.50V1081.00H1152.90V1208.50" fill="none" stroke="#000" stroke-width="1.4"/>
<rect x="1152.20" y="1055.40" width="22.10" height="153.10" fill="#6b97cb"/>
<rect x="1201.40" y="1062.30" width="20.70" height="146.20" fill="#fff"/>
<rect x="1201.40" y="1062.30" width="20.70" height="146.20" fill="url(#e4)"/>
<path d="M1201.40 1208.50V1062.30H1222.80V1208.50" fill="none" stroke="#000" stroke-width="1.4"/>
<rect x="1222.10" y="1044.80" width="22.00" height="163.70" fill="#98badf"/>
<rect x="1271.00" y="964.50" width="20.60" height="244.00" fill="#fff"/>
<rect x="1271.00" y="964.50" width="20.60" height="244.00" fill="url(#e5)"/>
<path d="M1271.00 1208.50V964.50H1292.30V1208.50" fill="none" stroke="#000" stroke-width="1.4"/>
<rect x="1291.60" y="936.70" width="22.40" height="271.80" fill="#c9dbef"/>
<path d="M932.70 1155.10V1181.70M927.20 1155.10H938.20M927.20 1181.70H938.20" stroke="#000" stroke-width="2.7" fill="none"/>
<path d="M953.60 1153.00V1182.20M948.10 1153.00H959.10M948.10 1182.20H959.10" stroke="#000" stroke-width="2.7" fill="none"/>
<path d="M1002.50 1051.00V1126.40M997.00 1051.00H1008.00M997.00 1126.40H1008.00" stroke="#000" stroke-width="2.7" fill="none"/>
<path d="M1023.50 1119.70V1161.60M1018.00 1119.70H1029.00M1018.00 1161.60H1029.00" stroke="#000" stroke-width="2.7" fill="none"/>
<path d="M1072.30 1119.40V1159.30M1066.80 1119.40H1077.80M1066.80 1159.30H1077.80" stroke="#000" stroke-width="2.7" fill="none"/>
<path d="M1093.30 1138.40V1156.50M1087.80 1138.40H1098.80M1087.80 1156.50H1098.80" stroke="#000" stroke-width="2.7" fill="none"/>
<path d="M1141.60 1064.40V1095.60M1136.10 1064.40H1147.10M1136.10 1095.60H1147.10" stroke="#000" stroke-width="2.7" fill="none"/>
<path d="M1163.10 1035.00V1076.90M1157.60 1035.00H1168.60M1157.60 1076.90H1168.60" stroke="#000" stroke-width="2.7" fill="none"/>
<path d="M1212.00 1044.80V1079.70M1206.50 1044.80H1217.50M1206.50 1079.70H1217.50" stroke="#000" stroke-width="2.7" fill="none"/>
<path d="M1232.40 1011.30V1079.70M1226.90 1011.30H1237.90M1226.90 1079.70H1237.90" stroke="#000" stroke-width="2.7" fill="none"/>
<path d="M1281.30 961.00V966.60M1275.80 961.00H1286.80M1275.80 966.60H1286.80" stroke="#000" stroke-width="2.7" fill="none"/>
<path d="M1302.20 912.10V962.40M1296.70 912.10H1307.70M1296.70 962.40H1307.70" stroke="#000" stroke-width="2.7" fill="none"/>
<circle cx="932.70" cy="1153.20" r="4.15"/>
<circle cx="937.70" cy="1171.90" r="4.15"/>
<circle cx="927.40" cy="1178.90" r="4.15"/>
<circle cx="953.60" cy="1151.50" r="4.15"/>
<circle cx="958.70" cy="1173.90" r="4.15"/>
<circle cx="949.70" cy="1178.90" r="4.15"/>
<circle cx="1002.50" cy="1047.60" r="4.15"/>
<circle cx="1002.50" cy="1097.90" r="4.15"/>
<circle cx="1002.50" cy="1120.80" r="4.15"/>
<circle cx="1023.50" cy="1117.40" r="4.15"/>
<circle cx="1023.50" cy="1144.80" r="4.15"/>
<circle cx="1023.50" cy="1157.90" r="4.15"/>
<circle cx="1067.00" cy="1126.40" r="4.15"/>
<circle cx="1077.40" cy="1129.40" r="4.15"/>
<circle cx="1072.30" cy="1161.60" r="4.15"/>
<circle cx="1093.30" cy="1136.40" r="4.15"/>
<circle cx="1088.50" cy="1152.30" r="4.15"/>
<circle cx="1098.30" cy="1152.30" r="4.15"/>
<circle cx="1136.90" cy="1067.70" r="4.15"/>
<circle cx="1147.20" cy="1074.10" r="4.15"/>
<circle cx="1141.60" cy="1097.90" r="4.15"/>
<circle cx="1158.40" cy="1043.40" r="4.15"/>
<circle cx="1168.20" cy="1043.40" r="4.15"/>
<circle cx="1163.10" cy="1079.20" r="4.15"/>
<circle cx="1212.00" cy="1042.60" r="4.15"/>
<circle cx="1212.00" cy="1064.90" r="4.15"/>
<circle cx="1212.00" cy="1077.80" r="4.15"/>
<circle cx="1227.40" cy="1024.70" r="4.15"/>
<circle cx="1237.40" cy="1027.20" r="4.15"/>
<circle cx="1232.40" cy="1085.30" r="4.15"/>
<circle cx="1276.50" cy="961.80" r="4.15"/>
<circle cx="1286.30" cy="962.40" r="4.15"/>
<circle cx="1281.30" cy="968.80" r="4.15"/>
<circle cx="1302.20" cy="909.30" r="4.15"/>
<circle cx="1302.20" cy="944.20" r="4.15"/>
<circle cx="1302.20" cy="958.20" r="4.15"/>
<path d="M757.80 803.90H769.30V1208.50M757.80 884.80H769.30M757.80 965.70H769.30M757.80 1046.70H769.30M757.80 1127.60H769.30M757.80 1208.50H1327.80M803.60 1208.50V1219.70M873.10 1208.50V1219.70M942.40 1208.50V1219.70M1012.30 1208.50V1219.70M1082.10 1208.50V1219.70M1152.00 1208.50V1219.70M1221.80 1208.50V1219.70M1291.60 1208.50V1219.70" stroke="#000" stroke-width="2.8" fill="none" stroke-linejoin="round"/>
<text x="716.90" y="810.30" font-size="23.8" fill="#000" textLength="25.28" lengthAdjust="spacing">10</text>
<text x="729.66" y="891.20" font-size="23.8" fill="#000" textLength="12.58" lengthAdjust="spacingAndGlyphs">8</text>
<text x="729.66" y="972.10" font-size="23.8" fill="#000" textLength="12.58" lengthAdjust="spacingAndGlyphs">6</text>
<text x="729.43" y="1053.10" font-size="23.8" fill="#000" textLength="12.58" lengthAdjust="spacingAndGlyphs">4</text>
<text x="729.88" y="1134.00" font-size="23.8" fill="#000" textLength="12.58" lengthAdjust="spacingAndGlyphs">2</text>
<text x="729.54" y="1214.90" font-size="23.8" fill="#000" textLength="12.58" lengthAdjust="spacingAndGlyphs">0</text>
<text x="770.71" y="1252.20" font-size="23.8" fill="#000" textLength="60.69" lengthAdjust="spacing">GB05</text>
<text x="838.70" y="1252.20" font-size="23.8" fill="#000" textLength="79.00" lengthAdjust="spacing">KT2440</text>
<text x="927.48" y="1252.20" font-size="23.8" fill="#000" textLength="34.49" lengthAdjust="spacing">WT</text>
<text x="993.00" y="1252.20" font-size="23.8" fill="#000" textLength="41.74" lengthAdjust="spacing">DT6</text>
<text x="1062.00" y="1252.20" font-size="23.8" fill="#000" textLength="41.58" lengthAdjust="spacing">DT7</text>
<text x="1133.00" y="1252.20" font-size="23.8" fill="#000" textLength="41.24" lengthAdjust="spacing">DT8</text>
<text x="1202.00" y="1252.20" font-size="23.8" fill="#000" textLength="41.56" lengthAdjust="spacing">DT9</text>
<text x="1266.30" y="1252.20" font-size="23.8" fill="#000" textLength="54.35" lengthAdjust="spacing">DT10</text>
<path d="M834.40 818.60L834.40 1044.40" stroke="#231f20" stroke-width="2.6" fill="none" stroke-dasharray="8 8"/>
<path d="M834.40 818.60L1223.60 818.60" stroke="#231f20" stroke-width="2.6" fill="none" stroke-dasharray="8 8"/>
<path d="M1223.60 818.60L1223.60 840.20" stroke="#231f20" stroke-width="2.6" fill="none" stroke-dasharray="8 8"/>
<path d="M1153.30 840.20L1290.80 840.20" stroke="#231f20" stroke-width="2.6" fill="none" stroke-dasharray="8 8"/>
<path d="M803.60 1044.40L873.10 1044.40" stroke="#231f20" stroke-width="2.6" fill="none" stroke-dasharray="8 8"/>
<path d="M942.10 818.60L942.10 952.10" stroke="#231f20" stroke-width="2.6" fill="none" stroke-dasharray="8 8"/>
<path d="M942.10 861.80L1081.40 861.80" stroke="#231f20" stroke-width="2.6" fill="none" stroke-dasharray="8 8"/>
<path d="M1081.40 861.80L1081.40 900.70" stroke="#231f20" stroke-width="2.6" fill="none" stroke-dasharray="8 8"/>
<path d="M942.10 904.40L1014.80 904.40" stroke="#231f20" stroke-width="2.6" fill="none" stroke-dasharray="8 8"/>
<path d="M1014.80 904.40L1014.80 928.40" stroke="#231f20" stroke-width="2.6" fill="none" stroke-dasharray="8 8"/>
<text x="1014.73" y="820.04" font-size="45" fill="#231f20" textLength="55.53" lengthAdjust="spacing" class="st">***</text>
<text x="991.83" y="865.34" font-size="45" fill="#231f20" textLength="36.27" lengthAdjust="spacing" class="st">**</text>
<text x="972.85" y="908.04" font-size="45" fill="#231f20" textLength="19.57" lengthAdjust="spacingAndGlyphs" class="st">*</text>
<text x="658.72" y="679.60" font-size="46" font-weight="700" fill="#231f20" textLength="24.82" lengthAdjust="spacingAndGlyphs">e</text>
<text x="961.28" y="709.30" font-size="28" fill="#000" textLength="136.51" lengthAdjust="spacing">epothilones</text>
<text transform="translate(682.00,1068.99) rotate(-90)" font-size="24.5" fill="#000" textLength="134.87" lengthAdjust="spacing">relative yield</text>
<text x="782.48" y="1202.40" font-size="24" fill="#000" textLength="49.40" lengthAdjust="spacing">N.D.</text>
<text x="851.18" y="1202.40" font-size="24" fill="#000" textLength="49.40" lengthAdjust="spacing">N.D.</text>
<rect x="1617.80" y="1189.00" width="24.40" height="19.70" fill="#fff"/>
<rect x="1617.80" y="1189.00" width="24.40" height="19.70" fill="url(#f0)"/>
<path d="M1617.80 1208.70V1189.00H1642.90V1208.70" fill="none" stroke="#000" stroke-width="1.4"/>
<rect x="1642.20" y="1188.30" width="26.50" height="20.40" fill="#636363"/>
<rect x="1688.30" y="1172.70" width="24.80" height="36.00" fill="#fff"/>
<rect x="1688.30" y="1172.70" width="24.80" height="36.00" fill="url(#f1)"/>
<path d="M1688.30 1208.70V1172.70H1713.80V1208.70" fill="none" stroke="#000" stroke-width="1.4"/>
<rect x="1713.10" y="1124.20" width="26.20" height="84.50" fill="#4358a8"/>
<rect x="1759.70" y="1151.50" width="24.20" height="57.20" fill="#fff"/>
<rect x="1759.70" y="1151.50" width="24.20" height="57.20" fill="url(#f2)"/>
<path d="M1759.70 1208.70V1151.50H1784.60V1208.70" fill="none" stroke="#000" stroke-width="1.4"/>
<rect x="1783.90" y="1097.00" width="26.30" height="111.70" fill="#5c62ab"/>
<rect x="1830.00" y="1107.80" width="24.80" height="100.90" fill="#fff"/>
<rect x="1830.00" y="1107.80" width="24.80" height="100.90" fill="url(#f3)"/>
<path d="M1830.00 1208.70V1107.80H1855.50V1208.70" fill="none" stroke="#000" stroke-width="1.4"/>
<rect x="1854.80" y="903.70" width="26.20" height="305.00" fill="#6b97cb"/>
<rect x="1900.80" y="1166.20" width="24.80" height="42.50" fill="#fff"/>
<rect x="1900.80" y="1166.20" width="24.80" height="42.50" fill="url(#f4)"/>
<path d="M1900.80 1208.70V1166.20H1926.30V1208.70" fill="none" stroke="#000" stroke-width="1.4"/>
<rect x="1925.60" y="1095.30" width="26.30" height="113.40" fill="#98badf"/>
<rect x="1971.70" y="1169.80" width="24.80" height="38.90" fill="#fff"/>
<rect x="1971.70" y="1169.80" width="24.80" height="38.90" fill="url(#f5)"/>
<path d="M1971.70 1208.70V1169.80H1997.20V1208.70" fill="none" stroke="#000" stroke-width="1.4"/>
<rect x="1996.50" y="1078.50" width="25.60" height="130.20" fill="#c9dbef"/>
<path d="M1630.30 1186.50V1190.00M1623.80 1186.50H1636.80M1623.80 1190.00H1636.80" stroke="#000" stroke-width="2.7" fill="none"/>
<path d="M1655.50 1176.80V1200.00M1649.00 1176.80H1662.00M1649.00 1200.00H1662.00" stroke="#000" stroke-width="2.7" fill="none"/>
<path d="M1701.00 1169.50V1174.50M1694.50 1169.50H1707.50M1694.50 1174.50H1707.50" stroke="#000" stroke-width="2.7" fill="none"/>
<path d="M1726.10 1109.40V1139.00M1719.60 1109.40H1732.60M1719.60 1139.00H1732.60" stroke="#000" stroke-width="2.7" fill="none"/>
<path d="M1771.80 1142.80V1159.00M1765.30 1142.80H1778.30M1765.30 1159.00H1778.30" stroke="#000" stroke-width="2.7" fill="none"/>
<path d="M1797.00 1091.10V1100.60M1790.50 1091.10H1803.50M1790.50 1100.60H1803.50" stroke="#000" stroke-width="2.7" fill="none"/>
<path d="M1842.10 1100.60V1113.30M1835.60 1100.60H1848.60M1835.60 1113.30H1848.60" stroke="#000" stroke-width="2.7" fill="none"/>
<path d="M1867.80 885.50V923.60M1861.30 885.50H1874.30M1861.30 923.60H1874.30" stroke="#000" stroke-width="2.7" fill="none"/>
<path d="M1913.50 1162.50V1168.00M1907.00 1162.50H1920.00M1907.00 1168.00H1920.00" stroke="#000" stroke-width="2.7" fill="none"/>
<path d="M1938.60 1079.90V1110.90M1932.10 1079.90H1945.10M1932.10 1110.90H1945.10" stroke="#000" stroke-width="2.7" fill="none"/>
<path d="M1983.80 1167.00V1170.00M1977.30 1167.00H1990.30M1977.30 1170.00H1990.30" stroke="#000" stroke-width="2.7" fill="none"/>
<path d="M2008.90 1071.10V1085.80M2002.40 1071.10H2015.40M2002.40 1085.80H2015.40" stroke="#000" stroke-width="2.7" fill="none"/>
<circle cx="1623.60" cy="1186.80" r="4.15"/>
<circle cx="1636.90" cy="1186.80" r="4.15"/>
<circle cx="1630.40" cy="1191.50" r="4.15"/>
<circle cx="1649.60" cy="1178.80" r="4.15"/>
<circle cx="1661.40" cy="1186.20" r="4.15"/>
<circle cx="1655.50" cy="1200.40" r="4.15"/>
<circle cx="1693.90" cy="1169.10" r="4.15"/>
<circle cx="1707.70" cy="1172.90" r="4.15"/>
<circle cx="1701.00" cy="1175.00" r="4.15"/>
<circle cx="1719.60" cy="1110.90" r="4.15"/>
<circle cx="1732.00" cy="1122.70" r="4.15"/>
<circle cx="1726.10" cy="1141.00" r="4.15"/>
<circle cx="1771.80" cy="1141.30" r="4.15"/>
<circle cx="1778.00" cy="1152.30" r="4.15"/>
<circle cx="1765.90" cy="1156.70" r="4.15"/>
<circle cx="1790.40" cy="1091.70" r="4.15"/>
<circle cx="1803.70" cy="1096.20" r="4.15"/>
<circle cx="1796.90" cy="1102.10" r="4.15"/>
<circle cx="1842.10" cy="1098.50" r="4.15"/>
<circle cx="1835.60" cy="1112.40" r="4.15"/>
<circle cx="1848.90" cy="1110.30" r="4.15"/>
<circle cx="1867.60" cy="882.80" r="4.15"/>
<circle cx="1873.90" cy="909.20" r="4.15"/>
<circle cx="1861.50" cy="921.00" r="4.15"/>
<circle cx="1906.40" cy="1161.70" r="4.15"/>
<circle cx="1920.30" cy="1165.50" r="4.15"/>
<circle cx="1913.50" cy="1169.10" r="4.15"/>
<circle cx="1938.60" cy="1081.40" r="4.15"/>
<circle cx="1938.60" cy="1095.30" r="4.15"/>
<circle cx="1938.60" cy="1111.80" r="4.15"/>
<circle cx="1977.30" cy="1167.00" r="4.15"/>
<circle cx="1990.60" cy="1167.90" r="4.15"/>
<circle cx="1983.80" cy="1171.40" r="4.15"/>
<circle cx="2008.90" cy="1072.00" r="4.15"/>
<circle cx="2014.80" cy="1079.30" r="4.15"/>
<circle cx="2003.50" cy="1084.40" r="4.15"/>
<path d="M1454.20 796.90H1466.40V1208.70M1454.20 899.85H1466.40M1454.20 1002.80H1466.40M1454.20 1105.75H1466.40M1454.20 1208.70H2033.10M1500.60 1208.70V1220.50M1571.60 1208.70V1220.50M1642.30 1208.70V1220.50M1713.10 1208.70V1220.50M1783.90 1208.70V1220.50M1854.80 1208.70V1220.50M1925.60 1208.70V1220.50M1996.50 1208.70V1220.50" stroke="#000" stroke-width="2.8" fill="none" stroke-linejoin="round"/>
<text x="1418.13" y="803.30" font-size="23.8" fill="#000" textLength="25.25" lengthAdjust="spacing">20</text>
<text x="1418.22" y="906.25" font-size="23.8" fill="#000" textLength="25.29" lengthAdjust="spacing">15</text>
<text x="1418.11" y="1009.20" font-size="23.8" fill="#000" textLength="25.28" lengthAdjust="spacing">10</text>
<text x="1430.86" y="1112.15" font-size="23.8" fill="#000" textLength="12.58" lengthAdjust="spacingAndGlyphs">5</text>
<text x="1430.74" y="1215.10" font-size="23.8" fill="#000" textLength="12.58" lengthAdjust="spacingAndGlyphs">0</text>
<text x="1463.71" y="1252.50" font-size="23.8" fill="#000" textLength="60.89" lengthAdjust="spacing">GB05</text>
<text x="1533.00" y="1252.50" font-size="23.8" fill="#000" textLength="79.70" lengthAdjust="spacing">KT2440</text>
<text x="1627.18" y="1252.50" font-size="23.8" fill="#000" textLength="33.09" lengthAdjust="spacing">WT</text>
<text x="1692.70" y="1252.50" font-size="23.8" fill="#000" textLength="41.74" lengthAdjust="spacing">DT6</text>
<text x="1762.60" y="1252.50" font-size="23.8" fill="#000" textLength="41.48" lengthAdjust="spacing">DT7</text>
<text x="1834.60" y="1252.50" font-size="23.8" fill="#000" textLength="41.74" lengthAdjust="spacing">DT8</text>
<text x="1905.00" y="1252.50" font-size="23.8" fill="#000" textLength="41.96" lengthAdjust="spacing">DT9</text>
<text x="1970.30" y="1252.50" font-size="23.8" fill="#000" textLength="54.75" lengthAdjust="spacing">DT10</text>
<path d="M1536.20 821.20L1536.20 1047.40" stroke="#231f20" stroke-width="2.6" fill="none" stroke-dasharray="8 8"/>
<path d="M1536.20 821.20L1923.40 821.20" stroke="#231f20" stroke-width="2.6" fill="none" stroke-dasharray="8 8"/>
<path d="M1923.40 821.20L1923.40 845.40" stroke="#231f20" stroke-width="2.6" fill="none" stroke-dasharray="8 8"/>
<path d="M1854.40 845.40L1991.30 845.40" stroke="#231f20" stroke-width="2.6" fill="none" stroke-dasharray="8 8"/>
<path d="M1499.90 1047.40L1572.30 1047.40" stroke="#231f20" stroke-width="2.6" fill="none" stroke-dasharray="8 8"/>
<path d="M1642.90 821.20L1642.90 940.20" stroke="#231f20" stroke-width="2.6" fill="none" stroke-dasharray="8 8"/>
<path d="M1642.90 884.40L1784.60 884.40" stroke="#231f20" stroke-width="2.6" fill="none" stroke-dasharray="8 8"/>
<path d="M1784.60 884.40L1784.60 908.60" stroke="#231f20" stroke-width="2.6" fill="none" stroke-dasharray="8 8"/>
<text x="1566.22" y="820.54" font-size="45" fill="#231f20" textLength="53.13" lengthAdjust="spacing" class="st">***</text>
<text x="1781.65" y="821.04" font-size="45" fill="#231f20" textLength="19.57" lengthAdjust="spacingAndGlyphs" class="st">*</text>
<text x="1701.43" y="887.74" font-size="45" fill="#231f20" textLength="35.67" lengthAdjust="spacing" class="st">**</text>
<text x="1363.53" y="679.50" font-size="46" font-weight="700" fill="#231f20" textLength="14.86" lengthAdjust="spacingAndGlyphs">f</text>
<text x="1674.18" y="710.20" font-size="28" fill="#000" textLength="153.86" lengthAdjust="spacing">myxochelins</text>
<text transform="translate(1389.30,1067.29) rotate(-90)" font-size="24.5" fill="#000" textLength="133.07" lengthAdjust="spacing">relative yield</text>
<text x="1479.18" y="1203.90" font-size="24" fill="#000" textLength="49.20" lengthAdjust="spacing">N.D.</text>
<text x="1547.88" y="1203.90" font-size="24" fill="#000" textLength="49.20" lengthAdjust="spacing">N.D.</text>
<rect x="1220.8" y="763.8" width="43.4" height="8.8" fill="#fff"/><rect x="1220.8" y="763.8" width="43.4" height="8.8" fill="url(#le)" stroke="#000" stroke-width="1.5"/>
<rect x="1220.1" y="785" width="44.8" height="10.2" rx="1" fill="#636363"/>
<text x="1287.86" y="777.50" font-size="23.5" fill="#000" textLength="47.88" lengthAdjust="spacing">epoC</text>
<text x="1287.86" y="798.40" font-size="23.5" fill="#000" textLength="47.51" lengthAdjust="spacing">epoD</text>
<rect x="1925.9" y="772.7" width="43.2" height="8.5" fill="#fff"/><rect x="1925.9" y="772.7" width="43.2" height="8.5" fill="url(#lf)" stroke="#000" stroke-width="1.5"/>
<rect x="1925.5" y="792.3" width="44" height="9.2" fill="#a1a0a4" stroke="#555" stroke-width="0.9"/>
<text x="1993.37" y="784.90" font-size="22" fill="#000" textLength="55.63" lengthAdjust="spacing">mxcA</text>
<text x="1993.37" y="803.70" font-size="22" fill="#000" textLength="55.53" lengthAdjust="spacing">mxcB</text>
</svg>
</body></html>
